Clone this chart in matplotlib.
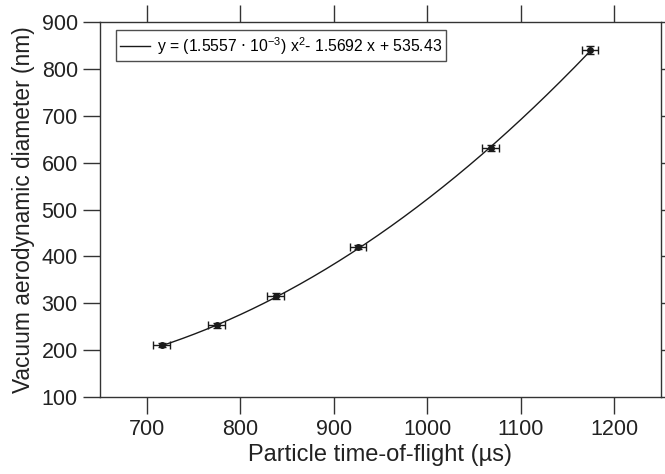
import numpy as np
import matplotlib
matplotlib.use("Agg")
import matplotlib.pyplot as plt

plt.rcParams['font.family'] = ['Liberation Sans', 'DejaVu Sans']

# Data
tof = [716, 775, 838, 926, 1068, 1174]          # particle time-of-flight (µs)
diam = [211, 253, 315, 420, 631, 840]           # vacuum aerodynamic diameter (nm)
tof_err = [9, 9, 9, 9, 9, 9]
diam_err = [5, 5, 6, 4, 7, 8]
fit_a, fit_b, fit_c = 1.5557e-3, -1.5692, 535.43
xticks = [700, 800, 900, 1000, 1100, 1200]
yticks = [100, 200, 300, 400, 500, 600, 700, 800, 900]

fig = plt.figure(figsize=(6.65, 4.74), dpi=100)
ax = fig.add_axes([100/665, 1-397/474, 561/665, 375/474])

xf = np.linspace(min(tof) - 2, max(tof) + 2, 300)
yf = fit_a * xf**2 + fit_b * xf + fit_c
ax.plot(xf, yf, color='#1a1a1a', lw=1.0,
        label=r'y = (1.5557 $\cdot$ 10$^{\mathregular{-3}}$) x$^{\mathregular{2}}$- 1.5692 x + 535.43')
ax.errorbar(tof, diam, xerr=tof_err, yerr=diam_err, fmt='o', ms=4,
            color='#1a1a1a', ecolor='#1a1a1a', elinewidth=1.0, capsize=3, capthick=1.0)

ax.set_xlim(650, 1250)
ax.set_ylim(100, 900)
ax.set_xticks(xticks)
ax.set_yticks(yticks)
ax.tick_params(which='both', direction='out', length=12, width=1, color='#333333',
               labelsize=15.5, top=True, right=True, labeltop=False, labelright=False,
               pad=4, labelcolor='#222222')
for s in ax.spines.values():
    s.set_linewidth(1.0)
    s.set_color('#333333')

ax.set_xlabel('Particle time-of-flight (µs)', fontsize=17, color='#222222', labelpad=3)
ax.set_ylabel('Vacuum aerodynamic diameter (nm)', fontsize=16.4, color='#222222', labelpad=5)

leg = ax.legend(loc='upper left', bbox_to_anchor=(0.028, 0.978), fontsize=11.3,
                frameon=True, fancybox=False, edgecolor='#222222', handlelength=1.9,
                handletextpad=0.4, borderpad=0.3, borderaxespad=0)
leg.get_frame().set_linewidth(1.0)

fig.savefig('out.png', dpi=100)
